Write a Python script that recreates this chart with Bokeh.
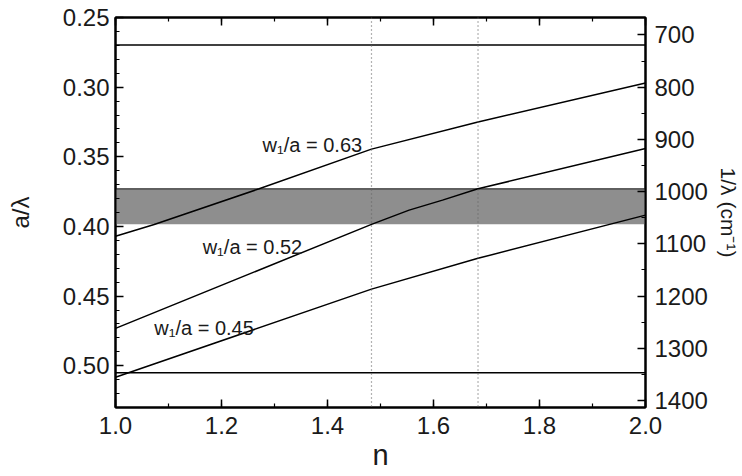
from bokeh.plotting import figure
from bokeh.models import (Range1d, LinearAxis, SingleIntervalTicker, NumeralTickFormatter,
                          Span, BoxAnnotation, CustomJSTickFormatter)
from bokeh.core.properties import value
from bokeh.embed import file_html
from bokeh.resources import INLINE

# ---- data ----
n_063 = [1.0, 1.073, 1.271, 1.483, 1.684, 2.0]
a_063 = [0.407, 0.3986, 0.373, 0.3445, 0.325, 0.297]
n_052 = [1.0, 1.483, 1.554, 1.617, 1.684, 2.0]
a_052 = [0.4732, 0.3985, 0.3883, 0.3811, 0.373, 0.344]
n_045 = [1.0, 1.483, 1.684, 2.0]
a_045 = [0.5083, 0.445, 0.4229, 0.3919]

curve_labels = ["w\u2081/a = 0.63", "w\u2081/a = 0.52", "w\u2081/a = 0.45"]
label_n = [1.2775, 1.1644, 1.0731]
label_a = [0.3416, 0.4146, 0.4731]

hlines = [0.2697, 0.505]
band_top, band_bottom = 0.373, 0.3985
n_dotted = [1.483, 1.684]
a_lattice_cm = 3.75e-4          # 1/lambda (cm^-1) = (a/lambda) / a
x_lim = (1.0, 2.0)
y_lim = (0.25, 0.53)

FONT = "Liberation Sans"
TXT = "#1a1a1a"

p = figure(width=742, height=476, output_backend="svg", toolbar_location=None,
           x_range=Range1d(*x_lim), y_range=Range1d(y_lim[1], y_lim[0]),
           min_border_left=115, min_border_right=97, min_border_top=17,
           min_border_bottom=69)
p.xgrid.visible = False
p.ygrid.visible = False
p.outline_line_color = "black"
p.outline_line_width = 2
p.background_fill_color = "white"
p.border_fill_color = "white"

def style_axis(ax):
    ax.axis_line_width = 2
    ax.axis_line_color = "black"
    ax.major_tick_in = 8
    ax.major_tick_out = 0
    ax.minor_tick_in = 4
    ax.minor_tick_out = 0
    ax.major_tick_line_width = 1.5
    ax.minor_tick_line_width = 1.2
    ax.major_tick_line_color = "black"
    ax.minor_tick_line_color = "black"
    ax.major_label_text_font = FONT
    ax.major_label_text_color = TXT
    ax.major_label_text_font_size = "24px"
    ax.axis_label_text_font = FONT
    ax.axis_label_text_font_style = "normal"
    ax.axis_label_text_color = TXT

# bottom axis
xa = p.xaxis[0]
xa.ticker = SingleIntervalTicker(interval=0.2, num_minor_ticks=2)
xa.formatter = NumeralTickFormatter(format="0.0")
style_axis(xa)
xa.major_label_standoff = 9
xa.axis_label = "n"
xa.axis_label_text_font_size = "29px"
xa.axis_label_standoff = 2

# left axis
ya = p.yaxis[0]
ya.ticker = SingleIntervalTicker(interval=0.05, num_minor_ticks=5)
ya.formatter = NumeralTickFormatter(format="0.00")
style_axis(ya)
ya.major_label_standoff = 6
ya.axis_label = "a/\u03bb"
ya.axis_label_text_font_size = "24px"
ya.axis_label_standoff = 26

# top axis (ticks only, empty labels)
top = LinearAxis(ticker=SingleIntervalTicker(interval=0.2, num_minor_ticks=2),
                 formatter=CustomJSTickFormatter(code="return ''"))
style_axis(top)
top.major_label_standoff = 0
p.add_layout(top, "above")

# right axis: 1/lambda in cm^-1
p.extra_y_ranges = {"inv": Range1d(y_lim[1] / a_lattice_cm, y_lim[0] / a_lattice_cm)}
ra = LinearAxis(y_range_name="inv",
                ticker=SingleIntervalTicker(interval=100, num_minor_ticks=2),
                formatter=NumeralTickFormatter(format="0"))
style_axis(ra)
ra.major_label_standoff = 9
ra.axis_label = "1/\u03bb (cm\u207b\u00b9)"
ra.axis_label_text_font_size = "21px"
ra.axis_label_standoff = 6
p.add_layout(ra, "right")

# shaded band
p.add_layout(BoxAnnotation(top=band_top, bottom=band_bottom, fill_color="#8e8e8e",
                           fill_alpha=1.0, line_color=None, level="underlay"))
p.add_layout(Span(location=band_top, dimension="width", line_color="#333333",
                  line_width=1.2, level="underlay"))

# horizontal lines
for h in hlines:
    p.add_layout(Span(location=h, dimension="width", line_color="black", line_width=1.6))

# dotted verticals
for xv in n_dotted:
    p.add_layout(Span(location=xv, dimension="height", line_color="#666666",
                      line_width=1.2, line_dash="1 3"))

# curves
for nn, aa in [(n_063, a_063), (n_052, a_052), (n_045, a_045)]:
    p.line(nn, aa, line_color="black", line_width=1.5)

p.text(x=label_n, y=label_a, text=curve_labels, text_font=value(FONT),
       text_font_size="20px", text_color=TXT, text_align="left",
       text_baseline="alphabetic")

open("out.html", "w").write(file_html(p, INLINE))
